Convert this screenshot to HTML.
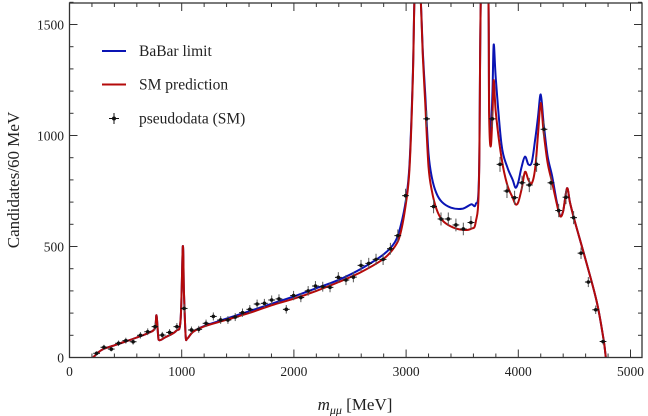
<!DOCTYPE html>
<html><head><meta charset="utf-8"><style>
body{margin:0;background:#fff}
svg{display:block;font-family:"Liberation Serif",serif}
</style></head><body>
<svg id="chart" width="648" height="416" viewBox="0 0 648 416" xmlns="http://www.w3.org/2000/svg">
<defs><clipPath id="clip"><rect x="69.5" y="3" width="572.5" height="354.5"/></clipPath></defs>
<g id="ticks"></g>
<g id="series" clip-path="url(#clip)"></g>
<rect x="69.5" y="3" width="572.5" height="354.5" fill="none" stroke="#333" stroke-width="1.3"/>
<text transform="translate(19,180) rotate(-90)" text-anchor="middle" font-size="17" fill="#222">Candidates/60 MeV</text>
<text x="355" y="410" text-anchor="middle" font-size="17" fill="#222"><tspan font-style="italic">m</tspan><tspan font-style="italic" font-size="12" dy="4">μμ</tspan><tspan dy="-4"> [MeV]</tspan></text>
<g>
<line x1="102" y1="51" x2="126" y2="51" stroke="#0a14b4" stroke-width="2"/>
<text x="139" y="56" font-size="15.5" fill="#222">BaBar limit</text>
<line x1="102" y1="84.5" x2="126" y2="84.5" stroke="#b40a0a" stroke-width="2"/>
<text x="139" y="89.5" font-size="15.5" fill="#222">SM prediction</text>
<g><line x1="114" y1="113" x2="114" y2="124" stroke="#111" stroke-width="1"/><line x1="109" y1="118.5" x2="119" y2="118.5" stroke="#111" stroke-width="1"/><circle cx="114" cy="118.5" r="2" fill="#111"/></g>
<text x="139" y="123.5" font-size="15.5" fill="#222">pseudodata (SM)</text>
</g>
</svg>
<script>
const xTicks=[0,1000,2000,3000,4000,5000];
const yTicks=[0,500,1000,1500];
const smX=[210,250,300,400,500,600,700,760,775,790,800,850,950,990,1010,1020,1035,1050,1100,1200,1400,1600,1800,2000,2200,2400,2600,2800,2900,2950,3000,3030,3060,3080,3120,3150,3170,3200,3230,3270,3320,3400,3500,3580,3620,3650,3670,3730,3740,3754,3770,3781,3800,3850,3900,3950,3975,4000,4030,4060,4090,4120,4150,4175,4200,4225,4260,4300,4340,4372,4400,4434,4460,4500,4600,4700,4760,4780];
const smY=[0,20,38,55,72,90,110,130,190,100,78,90,120,170,500,300,100,85,115,140,170,200,235,265,300,340,385,445,500,560,700,850,1250,1700,1700,1350,1150,860,750,670,620,590,575,580,610,800,1700,1700,1100,950,1100,1250,1100,900,780,720,690,700,760,836,800,785,850,1000,1146,1020,880,790,700,637,660,762,700,620,440,250,80,0];
const bbY=[0,20,38,55,72,90,110,130,190,100,78,90,120,170,500,300,100,85,115,142,175,208,242,275,312,350,400,465,520,590,715,870,1270,1700,1700,1370,1190,920,810,740,700,675,670,690,690,820,1700,1700,1150,1000,1200,1410,1250,960,860,800,765,790,860,905,870,880,980,1080,1185,1060,910,820,710,640,660,762,700,620,440,250,80,0];
const dataX=[242,307,372,437,502,567,632,697,762,827,892,957,1022,1087,1152,1217,1282,1347,1412,1477,1542,1607,1672,1737,1802,1867,1932,1997,2062,2127,2192,2257,2322,2396,2464,2530,2598,2667,2732,2795,2860,2926,2995,3183,3245,3311,3376,3444,3510,3578,3768,3837,3899,3967,4033,4098,4163,4229,4291,4360,4425,4493,4559,4624,4690,4755];
const dataY=[19,46,38,64,76,71,100,116,139,101,113,139,221,124,127,154,185,169,169,182,202,217,241,244,259,264,217,279,270,300,322,319,316,361,349,362,415,424,442,442,490,549,729,1075,680,624,624,597,579,608,1075,870,750,720,787,777,870,1028,787,662,722,630,470,340,215,72];
const X=v=>69.5+v*0.1122, Y=v=>357.5-v*0.222;
const NS='http://www.w3.org/2000/svg';
function mk(t,a,p){const e=document.createElementNS(NS,t);for(const k in a)e.setAttribute(k,a[k]);p.appendChild(e);return e;}
const tg=document.getElementById('ticks');
for(let v=0;v<=5100;v+=200){const l=v%1000===0?8:4;
mk('line',{x1:X(v),y1:357.5,x2:X(v),y2:357.5-l,stroke:'#333','stroke-width':1},tg);
mk('line',{x1:X(v),y1:3,x2:X(v),y2:3+l,stroke:'#333','stroke-width':1},tg);}
for(let v=0;v<=1600;v+=100){const l=v%500===0?8:4;
mk('line',{x1:69.5,y1:Y(v),x2:69.5+l,y2:Y(v),stroke:'#333','stroke-width':1},tg);
mk('line',{x1:642,y1:Y(v),x2:642-l,y2:Y(v),stroke:'#333','stroke-width':1},tg);}
xTicks.forEach(v=>{const t=mk('text',{x:X(v),y:376,'text-anchor':'middle','font-size':13.5,fill:'#222'},tg);t.textContent=v;

});
yTicks.forEach(v=>{const t=mk('text',{x:64,y:Y(v)+5,'text-anchor':'end','font-size':13.5,fill:'#222'},tg);t.textContent=v;

});
const sg=document.getElementById('series');
function smooth(ys){const p=smX.map((x,i)=>[X(x),Y(ys[i])]);let d='M'+p[0][0].toFixed(1)+','+p[0][1].toFixed(1);
for(let i=0;i<p.length-1;i++){const p0=p[Math.max(0,i-1)],p1=p[i],p2=p[i+1],p3=p[Math.min(p.length-1,i+2)];
const c1=[p1[0]+(p2[0]-p0[0])/6,p1[1]+(p2[1]-p0[1])/6],c2=[p2[0]-(p3[0]-p1[0])/6,p2[1]-(p3[1]-p1[1])/6];
c1[0]=Math.min(Math.max(c1[0],p1[0]),p2[0]);c2[0]=Math.min(Math.max(c2[0],p1[0]),p2[0]);
d+='C'+c1.map(v=>v.toFixed(1))+' '+c2.map(v=>v.toFixed(1))+' '+p2.map(v=>v.toFixed(1));}return d;}
const b=mk('path',{d:smooth(bbY),fill:'none',stroke:'#0a14b4','stroke-width':2,'stroke-linejoin':'round'},sg);


const r=mk('path',{d:smooth(smY),fill:'none',stroke:'#b40a0a','stroke-width':2,'stroke-linejoin':'round'},sg);


dataX.forEach((x,i)=>{const y=dataY[i];const g=mk('g',{},sg);


const e=Math.sqrt(y)*0.22+1;
mk('line',{x1:X(x),y1:Y(y)-e,x2:X(x),y2:Y(y)+e,stroke:'#555','stroke-width':1},g);
mk('line',{x1:X(x-30),y1:Y(y),x2:X(x+30),y2:Y(y),stroke:'#111','stroke-width':1},g);
mk('circle',{cx:X(x),cy:Y(y),r:1.8,fill:'#111'},g);});
</script>
</body></html>
